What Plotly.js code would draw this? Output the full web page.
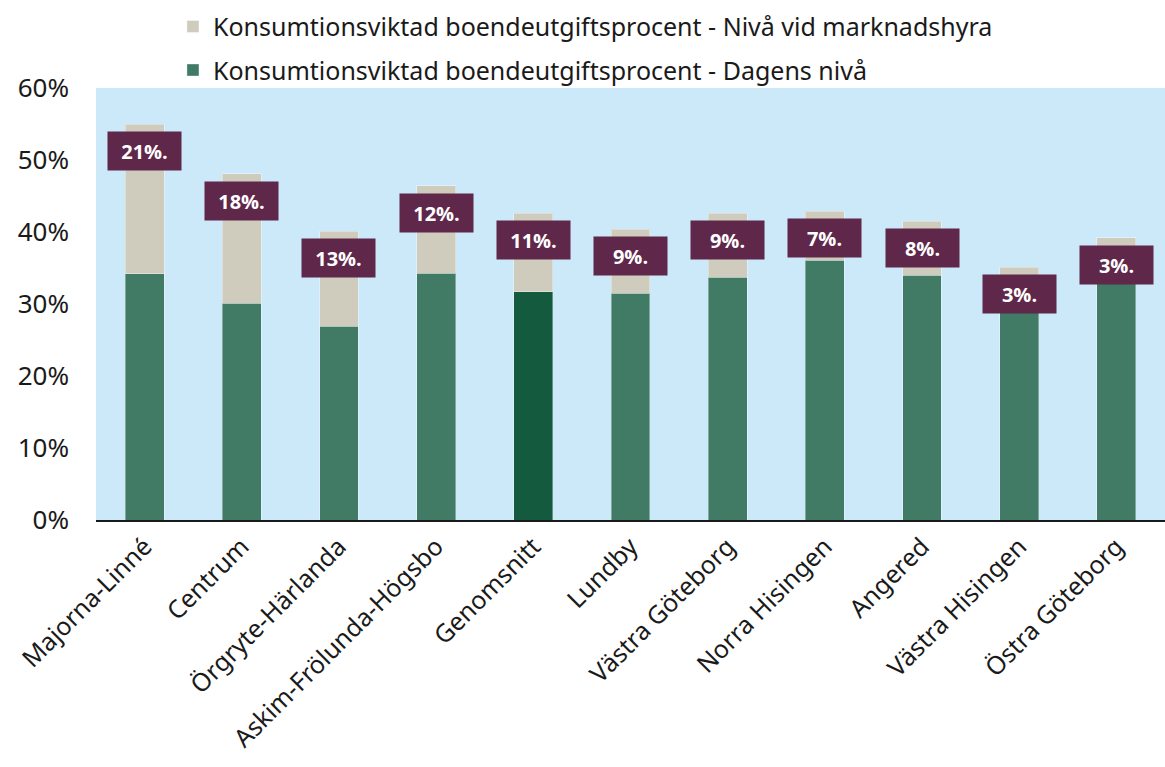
<!DOCTYPE html>
<html><head><meta charset="utf-8">
<script src="https://cdn.plot.ly/plotly-3.0.1.min.js"></script>
<style>html,body{margin:0;padding:0;background:#fff}#chart{width:1165px;height:767px}</style>
</head><body><div id="chart"></div>
<script>
const categories = ["Majorna-Linné","Centrum","Örgryte-Härlanda","Askim-Frölunda-Högsbo","Genomsnitt","Lundby","Västra Göteborg","Norra Hisingen","Angered","Västra Hisingen","Östra Göteborg"];
const dagensNiva = [34.2, 30.1, 26.9, 34.3, 31.7, 31.5, 33.7, 36.1, 34.0, 32.0, 36.2];
const marknadsNiva = [55.0, 48.1, 40.1, 46.4, 42.6, 40.4, 42.6, 42.9, 41.5, 35.1, 39.2];
const diffLabels = ["21%.","18%.","13%.","12%.","11%.","9%.","9%.","7%.","8%.","3%.","3%."];

const green = "#417b65", greenDark = "#145a3f", beige = "#d0ccbd", boxCol = "#5f2749";
const extra = marknadsNiva.map((v,i)=>v - dagensNiva[i]);

const traces = [
  {type:"bar", x:categories, y:dagensNiva, name:"Konsumtionsviktad boendeutgiftsprocent - Dagens nivå", legendgroup:"a", legendrank:2,
   marker:{color:categories.map(c=>c==="Genomsnitt"?greenDark:green), line:{color:"rgba(255,255,255,0.35)",width:1}}, hoverinfo:"skip"},
  {type:"bar", x:categories, y:extra, name:"Konsumtionsviktad boendeutgiftsprocent - Nivå vid marknadshyra", legendgroup:"b", legendrank:1,
   marker:{color:beige, line:{color:"rgba(255,255,255,0.35)",width:1}}, hoverinfo:"skip"}
];

const annotations = categories.map((c,i)=>({
  x:c, y:marknadsNiva[i], xref:"x", yref:"y", yanchor:"top", yshift:-7,
  text:"<b>"+diffLabels[i]+"</b>", showarrow:false, bgcolor:boxCol,
  font:{color:"#ffffff", size:20, family:"Open Sans, sans-serif"},
  width:65, height:30, borderpad:4
}));

const layout = {
  width:1165, height:767,
  margin:{l:96, r:0, t:88, b:247},
  paper_bgcolor:"#ffffff", plot_bgcolor:"#cce9fa",
  barmode:"stack", bargap:0.6,
  font:{family:"'Noto Sans', 'Open Sans', sans-serif", color:"#1a1a1a"},
  showlegend:true,
  legend:{x:0.072, y:1.195, xanchor:"left", yanchor:"top", orientation:"v",
          traceorder:"grouped", tracegroupgap:8,
          font:{size:25, color:"#1a1a1a"}, bgcolor:"rgba(0,0,0,0)", itemwidth:30},
  xaxis:{type:"category", tickangle:-45, tickfont:{size:25, color:"#1a1a1a"},
         showline:true, linecolor:"#1a1a1a", linewidth:2, ticks:"", showgrid:false},
  yaxis:{range:[0,60], dtick:10, ticksuffix:"%", tickfont:{size:26, color:"#1a1a1a"},
         showgrid:false, zeroline:false, showline:false, ticks:"", ticklabelstandoff:26},
  annotations:annotations
};
Plotly.newPlot("chart", traces, layout, {displayModeBar:false, staticPlot:true});
</script></body></html>
